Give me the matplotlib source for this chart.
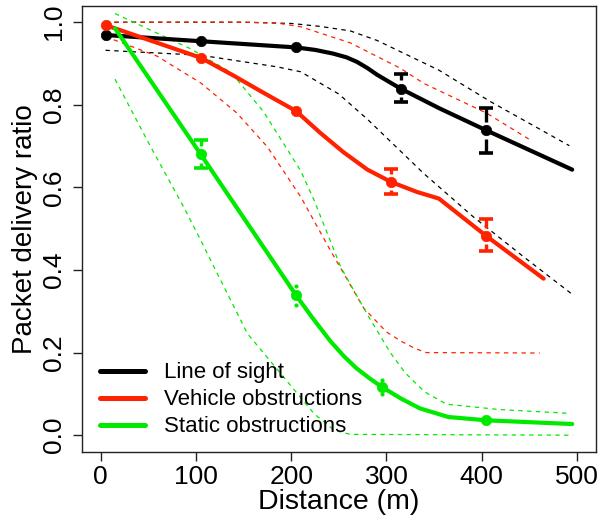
import matplotlib
matplotlib.use("Agg")
import matplotlib.pyplot as plt
from matplotlib.lines import Line2D

plt.rcParams['font.family'] = ['Liberation Sans', 'DejaVu Sans']

# ---- colours ----
C_LOS = '#000000'
C_VEH = '#FF2200'
C_STA = '#00EA00'

labels = ['Line of sight', 'Vehicle obstructions', 'Static obstructions']

# ---- Line of sight ----
los_curve_x = [5, 105, 205, 225, 244, 258, 269, 280, 290, 315, 356, 405, 495]
los_curve_y = [0.969, 0.954, 0.939, 0.933, 0.924, 0.915, 0.904, 0.889, 0.873, 0.839, 0.791, 0.738, 0.643]
los_pts_x = [5, 105, 205, 315, 405]
los_pts_y = [0.969, 0.954, 0.939, 0.839, 0.738]
los_err_x = [315, 405]
los_err_lo = [0.806, 0.684]
los_err_hi = [0.875, 0.793]
los_up_x = [5, 150, 200, 230, 262, 290, 355, 409, 492]
los_up_y = [1.0, 1.0, 0.997, 0.990, 0.979, 0.956, 0.884, 0.808, 0.701]
los_lo_x = [5, 105, 185, 210, 250, 280, 339, 391, 444, 494]
los_lo_y = [0.932, 0.920, 0.892, 0.880, 0.826, 0.765, 0.634, 0.529, 0.432, 0.343]

# ---- Vehicle obstructions ----
veh_curve_x = [5, 105, 140, 171, 205, 230, 255, 280, 305, 332, 355, 405, 465]
veh_curve_y = [0.993, 0.914, 0.870, 0.829, 0.785, 0.733, 0.685, 0.643, 0.613, 0.589, 0.573, 0.482, 0.379]
veh_pts_x = [5, 105, 205, 305, 405]
veh_pts_y = [0.993, 0.914, 0.785, 0.613, 0.482]
veh_err_x = [305, 405]
veh_err_lo = [0.585, 0.446]
veh_err_hi = [0.645, 0.523]
veh_up_x = [5, 150, 185, 210, 262, 315, 339, 405, 453]
veh_up_y = [1.0, 1.0, 0.998, 0.989, 0.950, 0.888, 0.852, 0.780, 0.712]
veh_lo_x = [5, 59, 105, 143, 175, 210, 241, 276, 300, 315, 330, 342, 461]
veh_lo_y = [0.965, 0.918, 0.853, 0.780, 0.698, 0.577, 0.448, 0.308, 0.250, 0.228, 0.210, 0.200, 0.199]

# ---- Static obstructions ----
sta_curve_x = [15, 105, 205, 222, 241, 255, 268, 282, 295, 315, 335, 365, 405, 495]
sta_curve_y = [0.985, 0.680, 0.339, 0.285, 0.228, 0.192, 0.163, 0.138, 0.117, 0.089, 0.065, 0.044, 0.036, 0.027]
sta_pts_x = [105, 205, 295, 405]
sta_pts_y = [0.680, 0.339, 0.117, 0.036]
sta_err_x = [105, 205, 295]
sta_err_lo = [0.647, 0.316, 0.099]
sta_err_hi = [0.714, 0.362, 0.134]
sta_up_x = [15, 94, 137, 171, 210, 224, 252, 280, 304, 320, 340, 363, 419, 491]
sta_up_y = [1.021, 0.936, 0.878, 0.783, 0.640, 0.569, 0.407, 0.292, 0.200, 0.150, 0.105, 0.075, 0.062, 0.053]
sta_lo_x = [15, 52, 87, 105, 119, 154, 189, 224, 245, 262, 496]
sta_lo_y = [0.862, 0.700, 0.553, 0.472, 0.407, 0.246, 0.149, 0.052, 0.012, 0.002, 0.0]

x_ticks = [0, 100, 200, 300, 400, 500]
y_ticks = [0.0, 0.2, 0.4, 0.6, 0.8, 1.0]
y_tick_labels = ['0.0', '0.2', '0.4', '0.6', '0.8', '1.0']

W, H = 600, 516
fig = plt.figure(figsize=(W / 100, H / 100), dpi=100)
ax = fig.add_axes([81.7 / W, 1 - 451.7 / H, (596 - 81.7) / W, (451.7 - 5.7) / H])
ax.set_xlim(-20, 520)
ax.set_ylim(-0.04, 1.04)

band_style = dict(lw=0.9, linestyle=(0, (3.5, 3.5)))
series = [
    (C_LOS, los_curve_x, los_curve_y, los_pts_x, los_pts_y, los_err_x, los_err_lo, los_err_hi,
     los_up_x, los_up_y, los_lo_x, los_lo_y),
    (C_VEH, veh_curve_x, veh_curve_y, veh_pts_x, veh_pts_y, veh_err_x, veh_err_lo, veh_err_hi,
     veh_up_x, veh_up_y, veh_lo_x, veh_lo_y),
    (C_STA, sta_curve_x, sta_curve_y, sta_pts_x, sta_pts_y, sta_err_x, sta_err_lo, sta_err_hi,
     sta_up_x, sta_up_y, sta_lo_x, sta_lo_y),
]

# confidence bands
for s in series:
    c = s[0]
    ax.plot(s[8], s[9], color=c, **band_style)
    ax.plot(s[10], s[11], color=c, **band_style)

# fitted curves, points and interval bars (bars leave a gap around the point)
gap = 0.020
for s in series:
    c, cx, cy, px, py, ex, elo, ehi = s[:8]
    ax.plot(cx, cy, color=c, lw=3, solid_capstyle='round', solid_joinstyle='round')
    ax.plot(px, py, 'o', color=c, ms=7.5, mec=c, mew=0.5)
    for xi, lo, hi in zip(ex, elo, ehi):
        yc = py[px.index(xi)] if xi in px else (lo + hi) / 2
        for lim, sign in ((hi, 1), (lo, -1)):
            inner = yc + sign * gap
            if (lim - inner) * sign > 0.006:
                ax.plot([xi, xi], [lim, inner], color=c, lw=2.4, solid_capstyle='butt')
                ax.plot([xi], [lim], marker='_', ms=10, mew=2.6, color=c)
            else:
                ax.plot([xi], [lim], marker='o', ms=3, mew=0, color=c)

for side in ax.spines.values():
    side.set_linewidth(1.0)
    side.set_color('#222222')

ax.set_xticks(x_ticks)
ax.set_yticks(y_ticks)
ax.set_yticklabels(y_tick_labels, rotation=90, va='center')
ax.tick_params(axis='both', labelsize=19, length=6.5, width=1.0, color='#222222')
ax.tick_params(axis='y', pad=5)
ax.tick_params(axis='x', pad=3)

ax.set_xlabel('Distance (m)', fontsize=20.5, labelpad=0)
ax.set_ylabel('Packet delivery ratio', fontsize=20, labelpad=3)

handles = [Line2D([0], [0], color=c, lw=3.6, solid_capstyle='round') for c in (C_LOS, C_VEH, C_STA)]
ax.legend(handles, labels, loc='lower left', bbox_to_anchor=(0.036, 0.032),
          frameon=False, fontsize=16, handlelength=2.0, handletextpad=0.85,
          labelspacing=0.27, borderaxespad=0, borderpad=0)

fig.savefig('out.png', dpi=100)
